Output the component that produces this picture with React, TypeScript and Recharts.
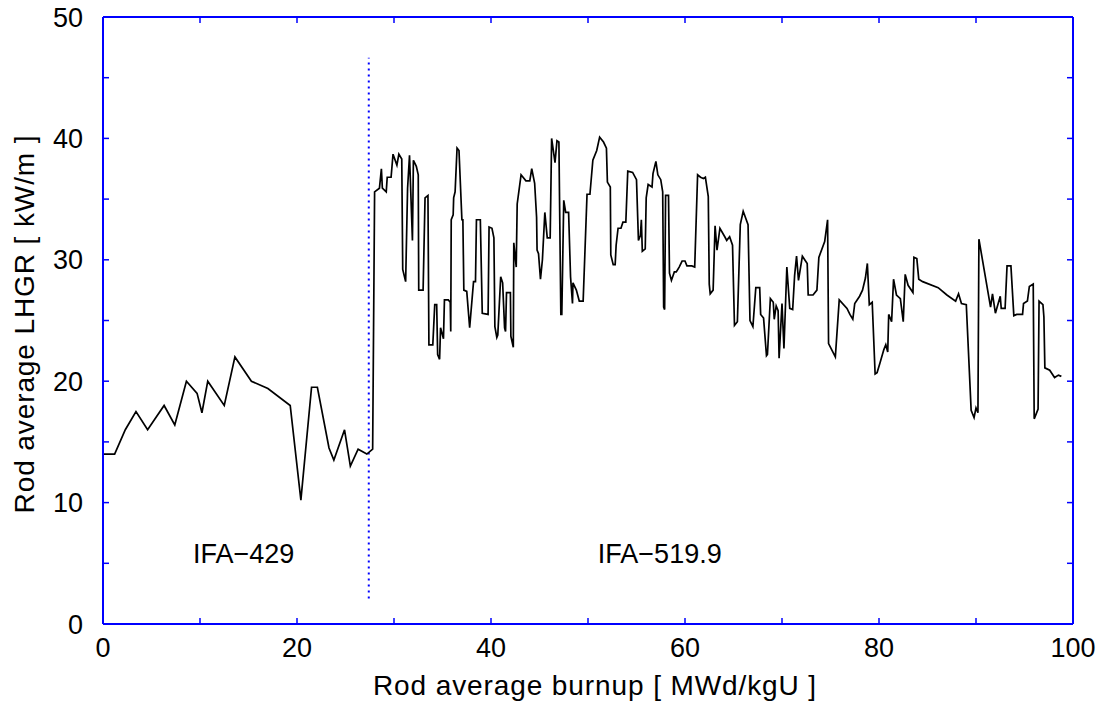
import React from "react";
import {
  LineChart,
  Line,
  XAxis,
  YAxis,
  ReferenceLine,
  ReferenceDot,
  Customized,
} from "recharts";

// ─── Data: rod average burnup [MWd/kgU] vs rod average LHGR [kW/m] ─────────
const burnup = [
  0, 1.2, 2.3, 3.4, 4.6, 6.3, 7.4, 8.6, 9.7, 10.2, 10.8, 12.5, 13.6, 15.3, 17.0,
  19.3, 20.4, 21.5, 22.1, 23.3, 23.8, 24.9, 25.5, 26.3, 27.2, 27.8,
  28.0, 28.5, 28.7, 28.8, 29.2, 29.3, 29.7, 29.9, 30.3, 30.5, 30.8, 30.9, 31.2,
  31.4, 31.6, 31.9, 32.0, 32.3, 32.5, 32.55, 33.0, 33.2, 33.5, 33.6, 34.0, 34.2,
  34.4, 34.5, 34.7, 34.8, 35.1, 35.2, 35.6, 35.8, 35.85, 35.9, 36.1, 36.15, 36.3,
  36.5, 36.7, 37.0, 37.1, 37.2, 37.5, 37.8, 38.2, 38.4, 38.5, 38.9, 39.1, 39.7,
  39.8, 40.1, 40.3, 40.4, 40.6, 40.7, 41.0, 41.2, 41.4, 41.5, 41.6, 42.0, 42.05,
  42.3, 42.35, 42.6, 42.7, 43.1, 43.6, 44.0, 44.2, 44.5, 44.7, 44.75, 44.9, 45.1,
  45.3, 45.55, 45.8, 46.1, 46.25, 46.6, 46.8, 47.0, 47.2, 47.3, 47.5, 47.7, 48.0,
  48.2, 48.4, 48.45, 48.8, 49.1, 49.5, 49.9, 50.2, 50.5, 50.9, 51.2, 51.6, 51.9,
  52.0, 52.3, 52.35, 52.6, 52.8, 52.9, 53.1, 53.4, 53.6, 53.9, 54.1, 54.6, 55.0,
  55.2, 55.4, 55.5, 55.6, 55.9, 56.0, 56.2, 56.6, 56.7, 57.0, 57.2, 57.5, 57.7,
  57.8, 57.9, 58.0, 58.3, 58.4, 58.6, 58.9, 59.1, 59.4, 59.7, 60.0, 60.2, 60.7,
  61.0, 61.3, 61.6, 61.9, 62.1, 62.4, 62.5, 62.6, 62.9, 63.1, 63.3, 63.6, 64.1,
  64.3, 64.6, 64.9, 65.1, 65.4, 65.7, 66.0, 66.5, 66.7, 67.0, 67.3, 67.7, 67.8,
  68.1, 68.4, 68.5, 68.8, 69.1, 69.2, 69.4, 69.6, 69.7, 70.0, 70.2, 70.5, 70.8,
  71.1, 71.3, 71.5, 71.7, 72.1, 72.6, 72.7, 73.2, 73.6, 73.8, 74.4, 74.7, 74.8,
  75.5, 75.9, 76.7, 77.0, 77.3, 77.5, 78.0, 78.3, 78.6, 78.8, 79.0, 79.3, 79.6,
  79.8, 80.1, 80.5, 80.7, 80.9, 81.0, 81.3, 81.5, 81.8, 82.2, 82.5, 82.7, 83.0,
  83.5, 83.6, 83.9, 84.1, 84.5, 86.1, 87.0, 87.9, 88.2, 88.5, 89.0, 89.5, 89.8,
  90.0, 90.2, 90.3, 91.5, 91.7, 92.0, 92.5, 92.6, 93.0, 93.2, 93.6, 93.9, 94.2,
  94.8, 94.9, 95.3, 95.5, 95.9, 96.0, 96.4, 96.5, 96.9, 97.0, 97.1, 97.6, 98.1,
  98.5, 98.8,
];

const lhgr = [
  14, 14, 16, 17.5, 16, 18, 16.4, 20, 19, 17.4, 20, 18, 22, 20, 19.4,
  18, 10.2, 19.5, 19.5, 14.5, 13.5, 16, 13, 14.4, 14, 14.4,
  35.6, 35.9, 37.5, 35.9, 35.6, 36.8, 36.8, 38.7, 37.8, 38.7, 38.3, 29.2, 28.2,
  35.9, 38.6, 31.6, 38.2, 37.7, 37.0, 27.5, 27.5, 35.1, 35.3, 23.0, 23.0, 26.3,
  26.3, 22.2, 21.8, 24.4, 23.5, 26.7, 26.7, 26.5, 24.1, 33.3, 33.7, 35.1, 35.6,
  39.2, 39.0, 33.3, 33.3, 27.5, 27.4, 24.4, 28.2, 28.2, 33.3, 33.3, 25.6, 25.5,
  32.7, 32.6, 31.8, 24.5, 23.6, 23.8, 28.6, 28.1, 24.4, 24.1, 27.3, 27.3, 23.7,
  22.8, 31.4, 29.4, 34.6, 37.0, 36.5, 36.5, 37.5, 36.3, 33.5, 30.8, 30.5, 28.4,
  30.0, 33.9, 31.8, 31.8, 40.0, 38.0, 39.8, 39.7, 25.5, 25.5, 34.9, 33.9, 33.9,
  28.6, 26.4, 28.1, 27.5, 26.6, 26.6, 35.4, 35.4, 38.2, 39.0, 40.1, 39.7, 39.2,
  36.4, 36.0, 30.4, 29.6, 29.6, 31.2, 32.6, 32.6, 33.1, 33.1, 37.3, 37.2, 36.6,
  31.6, 32.0, 33.3, 30.7, 30.9, 35.1, 36.2, 36.0, 37.1, 38.1, 37.0, 36.6, 35.6,
  26.1, 25.9, 35.3, 35.3, 28.9, 28.3, 29.0, 29.0, 29.4, 29.9, 29.9, 29.5, 29.5,
  29.4, 37.0, 36.8, 36.7, 36.8, 35.2, 28.0, 27.2, 27.5, 32.8, 30.8, 32.6, 31.9,
  31.6, 31.9, 31.2, 24.6, 24.9, 32.9, 34.0, 32.9, 25.0, 24.5, 27.7, 27.7, 25.5,
  25.2, 22.1, 22.2, 26.8, 26.5, 25.1, 26.2, 25.8, 21.9, 26.4, 22.7, 29.4, 26.0,
  25.9, 28.7, 30.3, 28.3, 30.3, 29.7, 27.1, 27.1, 27.5, 30.2, 31.5, 33.3, 23.1,
  22.0, 26.7, 26.0, 25.5, 25.1, 26.4, 27.0, 27.5, 28.5, 29.7, 26.3, 26.5, 20.6,
  20.7, 21.5, 22.6, 23.0, 22.4, 25.5, 24.9, 28.4, 27.1, 26.8, 24.9, 28.8, 27.9,
  27.3, 30.2, 30.1, 28.4, 28.2, 27.7, 27.1, 26.6, 27.2, 26.4, 26.3, 17.6, 17.0,
  17.8, 17.4, 31.7, 26.1, 27.2, 25.6, 27.0, 26.0, 26.0, 29.5, 29.5, 25.4, 25.5,
  25.5, 26.4, 26.6, 27.8, 28.0, 16.9, 17.7, 26.6, 26.3, 25.3, 21.1, 20.9, 20.3,
  20.5, 20.4,
];

const xTicks = [0, 10, 20, 30, 40, 50, 60, 70, 80, 90, 100];
const yTicks = [0, 5, 10, 15, 20, 25, 30, 35, 40, 45, 50];

// boundary between the two test rigs
const rigBoundary = 27.4;
const rigLabels = [
  { name: "IFA−429", x: 14.5, y: 5.8 },
  { name: "IFA−519.9", x: 57.4, y: 5.8 },
];

const data = burnup.map((b, i) => ({ x: b, y: lhgr[i] }));

const FONT = "'Liberation Sans', Arial, Helvetica, sans-serif";
const FRAME = "#0000ff";

const tickStyle = { fontSize: 27, fill: "#000", fontFamily: FONT };
const axisLine = { stroke: FRAME, strokeWidth: 2 };
const tickLine = { stroke: FRAME, strokeWidth: 1.5 };

function AxisTitles() {
  return (
    <g fontFamily={FONT} fontSize={28} fill="#000" letterSpacing={0.9}>
      <text x={595} y={695} textAnchor="middle">
        Rod average burnup [ MWd/kgU ]
      </text>
      <text
        x={34}
        y={324}
        textAnchor="middle"
        transform="rotate(-90, 34, 324)"
      >
        Rod average LHGR [ kW/m ]
      </text>
    </g>
  );
}

export default function App() {
  return (
    <div style={{ position: "absolute", left: 0, top: 0 }}>
      <LineChart
        width={1103}
        height={704}
        data={data}
        margin={{ top: 16, right: 29, bottom: 0, left: 0 }}
        style={{ fontFamily: FONT }}
      >
        <XAxis
          xAxisId="bottom"
          type="number"
          dataKey="x"
          domain={[0, 100]}
          ticks={xTicks}
          tickFormatter={(v) => (v % 20 === 0 ? String(v) : "")}
          height={80}
          tickSize={-6}
          tickMargin={20}
          tick={tickStyle}
          axisLine={axisLine}
          tickLine={tickLine}
        />
        <XAxis
          xAxisId="top"
          orientation="top"
          type="number"
          dataKey="x"
          domain={[0, 100]}
          ticks={xTicks}
          tickFormatter={() => ""}
          height={1}
          tickSize={-6}
          axisLine={axisLine}
          tickLine={tickLine}
        />
        <YAxis
          yAxisId="left"
          type="number"
          domain={[0, 50]}
          ticks={yTicks}
          tickFormatter={(v) => (v % 10 === 0 ? String(v) : "")}
          width={103}
          tickSize={-6}
          tickMargin={26}
          tick={tickStyle}
          axisLine={axisLine}
          tickLine={tickLine}
        />
        <YAxis
          yAxisId="right"
          orientation="right"
          type="number"
          domain={[0, 50]}
          ticks={yTicks}
          tickFormatter={() => ""}
          width={1}
          tickSize={-6}
          axisLine={axisLine}
          tickLine={tickLine}
        />
        <ReferenceLine
          xAxisId="bottom"
          yAxisId="left"
          segment={[
            { x: rigBoundary, y: 2.1 },
            { x: rigBoundary, y: 46.65 },
          ]}
          stroke={FRAME}
          strokeWidth={2}
          strokeDasharray="2 4"
        />
        {rigLabels.map((r) => (
          <ReferenceDot
            key={r.name}
            xAxisId="bottom"
            yAxisId="left"
            x={r.x}
            y={r.y}
            r={0}
            fill="none"
            stroke="none"
            label={{
              value: r.name,
              position: "center",
              fontSize: 27,
              fill: "#000",
              fontFamily: FONT,
            }}
          />
        ))}
        {/* invisible copy so the top/right frame axes have a series bound */}
        <Line
          xAxisId="top"
          yAxisId="right"
          type="linear"
          dataKey="y"
          stroke="none"
          strokeOpacity={0}
          dot={false}
          activeDot={false}
          isAnimationActive={false}
        />
        <Line
          xAxisId="bottom"
          yAxisId="left"
          type="linear"
          dataKey="y"
          stroke="#000"
          strokeWidth={1.7}
          dot={false}
          activeDot={false}
          isAnimationActive={false}
        />
        <Customized component={AxisTitles} />
      </LineChart>
    </div>
  );
}
